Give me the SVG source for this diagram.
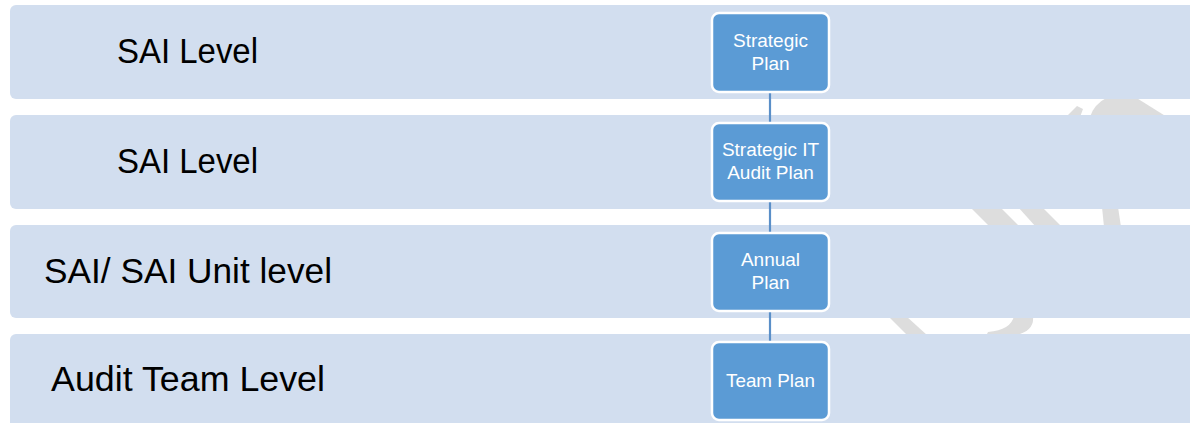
<svg xmlns="http://www.w3.org/2000/svg" width="1190" height="423" viewBox="0 0 1190 423">
  <style>
    .band { fill: #D2DEEF; }
    .wm { fill: #DDDDDD; }
    .label { font-family: "Liberation Sans", Arial, sans-serif; font-size: 35px; fill: #000000; }
    .node rect { fill: #5B9BD5; stroke: #FFFFFF; stroke-width: 2.5; }
    .node text { font-family: "Liberation Sans", Arial, sans-serif; font-size: 19px; fill: #FFFFFF; text-anchor: middle; }
    .conn line { stroke: #5A8FC8; stroke-width: 2.2; }
  </style>
  <rect width="1190" height="423" fill="#FFFFFF"/>

  <g id="watermark">
    <polygon class="wm" points="1066,117 1077,106 1083,109 1080,117"/>
    <path class="wm" d="M1090,117 Q1094,104 1108,97 L1135,97 L1167,117 Z"/>
    <polygon class="wm" points="970,207 1000,207 1020,227 990,227"/>
    <polygon class="wm" points="1018,207 1042,207 1062,227 1036,227"/>
    <polygon class="wm" points="1102,207 1118,207 1121,227 1104,227"/>
    <polygon class="wm" points="888,316 906,316 928,336 908,336"/>
    <path class="wm" d="M1014,316 L1033,316 Q1035,333 1010,336 L986,336 L988,332 Q1011,330 1014,316 Z"/>
  </g>

  <g id="band1"><rect class="band" x="10" y="5" width="1200" height="94" rx="6"/>
    <text class="label" x="117" y="63" textLength="141" lengthAdjust="spacingAndGlyphs">SAI Level</text></g>
  <g id="band2"><rect class="band" x="10" y="115" width="1200" height="94" rx="6"/>
    <text class="label" x="117" y="173" textLength="141" lengthAdjust="spacingAndGlyphs">SAI Level</text></g>
  <g id="band3"><rect class="band" x="10" y="225" width="1200" height="93" rx="6"/>
    <text class="label" x="44" y="283" textLength="288" lengthAdjust="spacingAndGlyphs">SAI/ SAI Unit level</text></g>
  <g id="band4"><rect class="band" x="10" y="334" width="1200" height="100" rx="6"/>
    <text class="label" x="51" y="391" textLength="274" lengthAdjust="spacingAndGlyphs">Audit Team Level</text></g>

  <g id="connectors" class="conn">
    <line x1="770" y1="92" x2="770" y2="123"/>
    <line x1="770" y1="201" x2="770" y2="233"/>
    <line x1="770" y1="311" x2="770" y2="342"/>
  </g>

  <g id="node-strategic-plan" class="node">
    <rect x="712" y="13" width="117" height="79" rx="7"/>
    <text x="770.5" y="46.5">Strategic</text>
    <text x="770.5" y="70">Plan</text>
  </g>
  <g id="node-strategic-it-audit-plan" class="node">
    <rect x="712" y="123" width="117" height="78" rx="7"/>
    <text x="770.5" y="155.5">Strategic IT</text>
    <text x="770.5" y="179">Audit Plan</text>
  </g>
  <g id="node-annual-plan" class="node">
    <rect x="712" y="233" width="117" height="78" rx="7"/>
    <text x="770.5" y="265.5">Annual</text>
    <text x="770.5" y="289">Plan</text>
  </g>
  <g id="node-team-plan" class="node">
    <rect x="712" y="342" width="117" height="78" rx="7"/>
    <text x="770.5" y="386.5" textLength="89" lengthAdjust="spacingAndGlyphs">Team Plan</text>
  </g>
</svg>
